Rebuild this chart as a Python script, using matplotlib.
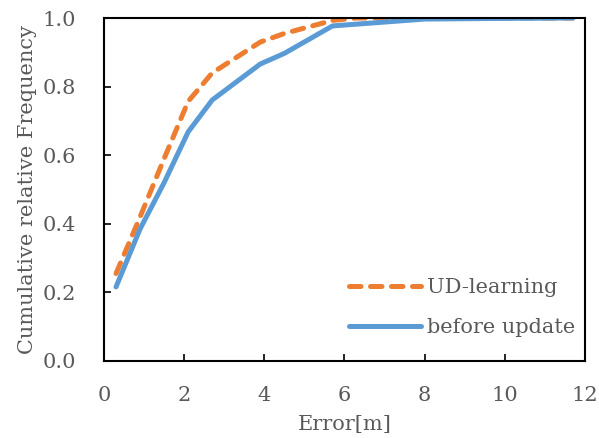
import matplotlib
matplotlib.use("Agg")
import matplotlib.pyplot as plt

x_ud = [0.3, 0.9, 1.5, 2.1, 2.7, 3.9, 4.5, 5.7, 6.3, 8.0, 10.0, 11.7]
y_ud = [0.255, 0.42, 0.59, 0.757, 0.84, 0.93, 0.955, 0.993, 1.0, 1.0, 1.0, 1.0]
x_bu = [0.3, 0.9, 1.5, 2.1, 2.7, 3.9, 4.5, 5.7, 8.0, 10.0, 11.7]
y_bu = [0.216, 0.385, 0.52, 0.668, 0.761, 0.866, 0.897, 0.977, 0.997, 0.999, 1.0]

xticks = [0, 2, 4, 6, 8, 10, 12]
yticks = [0.0, 0.2, 0.4, 0.6, 0.8, 1.0]

plt.rcParams['font.family'] = ['DejaVu Serif']
gray = '#595959'
fs = 15

fig = plt.figure(figsize=(5.99, 4.38), dpi=100)
ax = fig.add_axes([0.1736, 0.1758, 0.803, 0.783])

ax.plot(x_ud, y_ud, color='#ED7D31', lw=3.6, ls=(0, (2.3, 1.9)), label='UD-learning',
        solid_capstyle='round', dash_capstyle='round')
ax.plot(x_bu, y_bu, color='#5B9BD5', lw=3.6, label='before update', solid_capstyle='round')

ax.set_xlim(0, 12)
ax.set_ylim(0, 1.0)
ax.set_xticks(xticks)
ax.set_yticks(yticks)
ax.set_yticklabels([f"{v:.1f}" for v in yticks])
ax.tick_params(direction='in', length=5, width=1.2, labelsize=fs, labelcolor=gray)
ax.tick_params(axis='y', pad=20)
ax.tick_params(axis='x', pad=18)
for s in ax.spines.values():
    s.set_linewidth(1.5)
    s.set_color('black')

ax.set_xlabel('Error[m]', fontsize=fs, color=gray, labelpad=7)
ax.set_ylabel('Cumulative relative Frequency', fontsize=fs, color=gray, labelpad=4)

leg = ax.legend(loc='lower right', frameon=False, fontsize=fs, handlelength=3.5,
                labelspacing=1.0, handletextpad=0.25, bbox_to_anchor=(1.018, 0.015))
for t in leg.get_texts():
    t.set_color(gray)

fig.savefig('out.png', dpi=100)
